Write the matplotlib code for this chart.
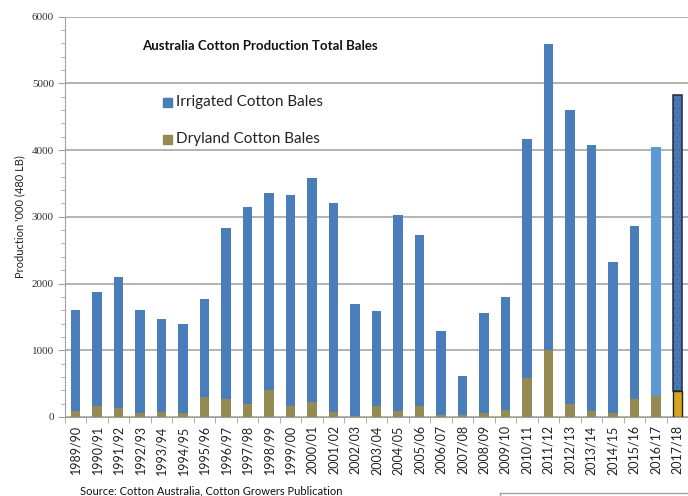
import matplotlib
matplotlib.use("Agg")
import matplotlib.pyplot as plt
import numpy as np
from matplotlib.ticker import MultipleLocator

plt.rcParams['font.family'] = ['Lato', 'DejaVu Sans']

seasons = ["1989/90", "1990/91", "1991/92", "1992/93", "1993/94", "1994/95", "1995/96",
           "1996/97", "1997/98", "1998/99", "1999/00", "2000/01", "2001/02", "2002/03",
           "2003/04", "2004/05", "2005/06", "2006/07", "2007/08", "2008/09", "2009/10",
           "2010/11", "2011/12", "2012/13", "2013/14", "2014/15", "2015/16", "2016/17",
           "2017/18"]
dryland = [95, 165, 140, 55, 75, 60, 300, 275, 200, 400, 165, 230, 70, 10, 165, 90, 165,
           35, 25, 60, 100, 585, 1010, 195, 90, 65, 275, 315, 385]
irrigated = [1505, 1710, 1960, 1555, 1395, 1340, 1475, 2550, 2940, 2950, 3165, 3355, 3130,
             1680, 1425, 2935, 2560, 1255, 590, 1500, 1695, 3580, 4575, 4405, 3990, 2255,
             2585, 3725, 4440]

c_irr = "#4a7ebb"
c_dry = "#948a54"

fig = plt.figure(figsize=(6.88, 4.96), dpi=100)
ax = fig.add_axes([65/688, 79/496, 623/688, 400.5/496])

x = np.arange(len(seasons))
w = 0.44
irr_colors = [c_irr] * len(seasons)
irr_colors[-2] = "#5b9bd5"
dry_colors = [c_dry] * len(seasons)
dry_colors[-1] = "#d4a520"

bd = ax.bar(x, dryland, width=w, color=dry_colors, edgecolor="none", zorder=3)
bi = ax.bar(x, irrigated, width=w, bottom=dryland, color=irr_colors, edgecolor="none", zorder=3)
# last (estimate) bar: subtle texture + dark outline
bi[-1].set_facecolor("#4a7ab5")
bi[-1].set_edgecolor("#3f6aa0")
bi[-1].set_linewidth(0)
bi[-1].set_hatch("....")
ax.bar(x[-1:], irrigated[-1:], width=w, bottom=dryland[-1:], facecolor="none",
       edgecolor="#1f2a3c", linewidth=1.1, zorder=4)
ax.bar(x[-1:], dryland[-1:], width=w, facecolor="none",
       edgecolor="#222222", linewidth=1.0, zorder=4)

ax.set_xlim(-0.5, len(seasons) - 0.5)
ax.set_ylim(0, 6000)
ax.yaxis.set_major_locator(MultipleLocator(1000))
ax.yaxis.set_minor_locator(MultipleLocator(200))
ax.grid(axis="y", which="major", color="#a6a6a6", linewidth=1.2, zorder=0)

for s in ["top", "right"]:
    ax.spines[s].set_visible(False)
ax.spines["left"].set_color("#a0a0a0")
ax.spines["bottom"].set_color("#a0a0a0")

ax.set_xticks(x)
ax.set_xticklabels(seasons, rotation=90, fontsize=9, color="#222222")
ax.set_xticks(np.arange(-0.5, len(seasons), 1), minor=True)
ax.tick_params(axis="x", which="major", length=0, pad=6)
ax.tick_params(axis="x", which="minor", length=4, color="#a0a0a0")
ax.tick_params(axis="y", which="major", length=5, color="#a0a0a0", labelsize=8,
               labelcolor="#333333", pad=3)
ax.tick_params(axis="y", which="minor", length=3, color="#a0a0a0")
for lab in ax.get_yticklabels():
    lab.set_fontfamily(["Liberation Serif", "DejaVu Serif"])

ax.set_ylabel("Production '000 (480 LB)", fontsize=8, color="#222222", labelpad=5)

fig.text(142/688, 1 - 46/496, "Australia Cotton Production Total Bales", fontsize=9.5,
         fontweight="bold", color="#111111", va="center", ha="left")

# legend-like labels
fig.patches.append(plt.Rectangle((163/688, 1 - 107/496), 9/688, 9/496,
                                 transform=fig.transFigure, color=c_irr, figure=fig))
fig.text(176/688, 1 - 102/496, "Irrigated Cotton Bales", fontsize=11, color="#222222",
         va="center", ha="left")
fig.patches.append(plt.Rectangle((163/688, 1 - 144/496), 9/688, 9/496,
                                 transform=fig.transFigure, color=c_dry, figure=fig))
fig.text(176/688, 1 - 139/496, "Dryland Cotton Bales", fontsize=11, color="#222222",
         va="center", ha="left")

fig.text(80/688, 1 - 491/496, "Source: Cotton Australia, Cotton Growers Publication",
         fontsize=8, color="#111111", va="center", ha="left")

# partial box at bottom right
fig.add_artist(plt.Line2D([500/688, 1.0], [1 - 493/496, 1 - 493/496],
                          transform=fig.transFigure, color="#a0a0a0", linewidth=1))
fig.add_artist(plt.Line2D([500/688, 500/688], [1 - 493/496, 0],
                          transform=fig.transFigure, color="#a0a0a0", linewidth=1))

fig.savefig("out.png", dpi=100)
